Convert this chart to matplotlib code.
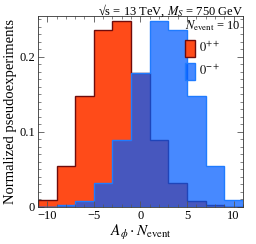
import matplotlib
matplotlib.use("Agg")
import matplotlib.pyplot as plt
import numpy as np
from matplotlib.patches import Patch
from matplotlib.ticker import MultipleLocator

plt.rcParams["font.family"] = ["Liberation Serif", "DejaVu Serif"]
plt.rcParams["mathtext.fontset"] = "stix"

# bin edges of A_phi * N_event
binEdges = [-11, -9, -7, -5, -3, -1, 1, 3, 5, 7, 9, 11]
# normalized counts per bin
evenValues = [0.0097, 0.055, 0.147, 0.235, 0.247, 0.178, 0.0885, 0.032, 0.0075, 0.002, 0.0005]
oddValues = [0.0005, 0.002, 0.0075, 0.032, 0.0885, 0.178, 0.247, 0.235, 0.147, 0.055, 0.0097]
labels = [r"$0^{++}$", r"$0^{-+}$"]

redFill = "#ff4b19"
redEdge = "#6e0c0c"
blueFill = (0.0, 0.36, 1.0, 0.72)
blueEdge = "#1f7bff"

fig = plt.figure(figsize=(2.56, 2.44), dpi=100)
ax = fig.add_axes([0.148, 0.152, 0.801, 0.782])

centers = 0.5 * (np.array(binEdges[:-1]) + np.array(binEdges[1:]))
ax.hist(centers, bins=binEdges, weights=evenValues, histtype="stepfilled",
        facecolor=redFill, edgecolor=redEdge, linewidth=1.0)
ax.hist(centers, bins=binEdges, weights=oddValues, histtype="stepfilled",
        facecolor=blueFill, edgecolor=blueEdge, linewidth=1.0)

ax.set_xlim(-11, 11)
ax.set_ylim(0, 0.254)
ax.xaxis.set_major_locator(MultipleLocator(5))
ax.xaxis.set_minor_locator(MultipleLocator(1))
ax.yaxis.set_major_locator(MultipleLocator(0.1))
ax.yaxis.set_minor_locator(MultipleLocator(0.01))
ax.set_yticks([0, 0.1, 0.2])
ax.set_yticklabels(["0", "0.1", "0.2"])
ax.tick_params(which="both", direction="in", top=True, right=True,
               labelsize=9, color="#555555", pad=2)
ax.tick_params(which="major", length=4, width=0.6)
ax.tick_params(which="minor", length=2, width=0.5)
for s in ax.spines.values():
    s.set_color("#333333")
    s.set_linewidth(0.6)

ax.set_xlabel(r"$A_{\phi}\cdot N_{\mathrm{event}}$", fontsize=11, labelpad=1)
ax.set_ylabel("Normalized pseudoexperiments", fontsize=10.5, labelpad=2)
fig.text(0.949, 0.99, "\u221as = 13 TeV, $M_S$ = 750 GeV",
         ha="right", va="top", fontsize=9)

handles = [Patch(facecolor=redFill, edgecolor=redEdge, linewidth=1.0),
           Patch(facecolor=blueFill, edgecolor=blueEdge, linewidth=1.0)]
leg = ax.legend(handles, labels, loc="upper right", frameon=False,
                bbox_to_anchor=(1.0, 1.0),
                title=r"$N_{\mathrm{event}}$ = 10", title_fontsize=9, fontsize=9,
                handlelength=0.8, handleheight=1.7, handletextpad=0.3,
                labelspacing=0.5, borderaxespad=0.0, borderpad=0.2)
leg._legend_box.align = "left"

fig.savefig("out.png", dpi=100)
